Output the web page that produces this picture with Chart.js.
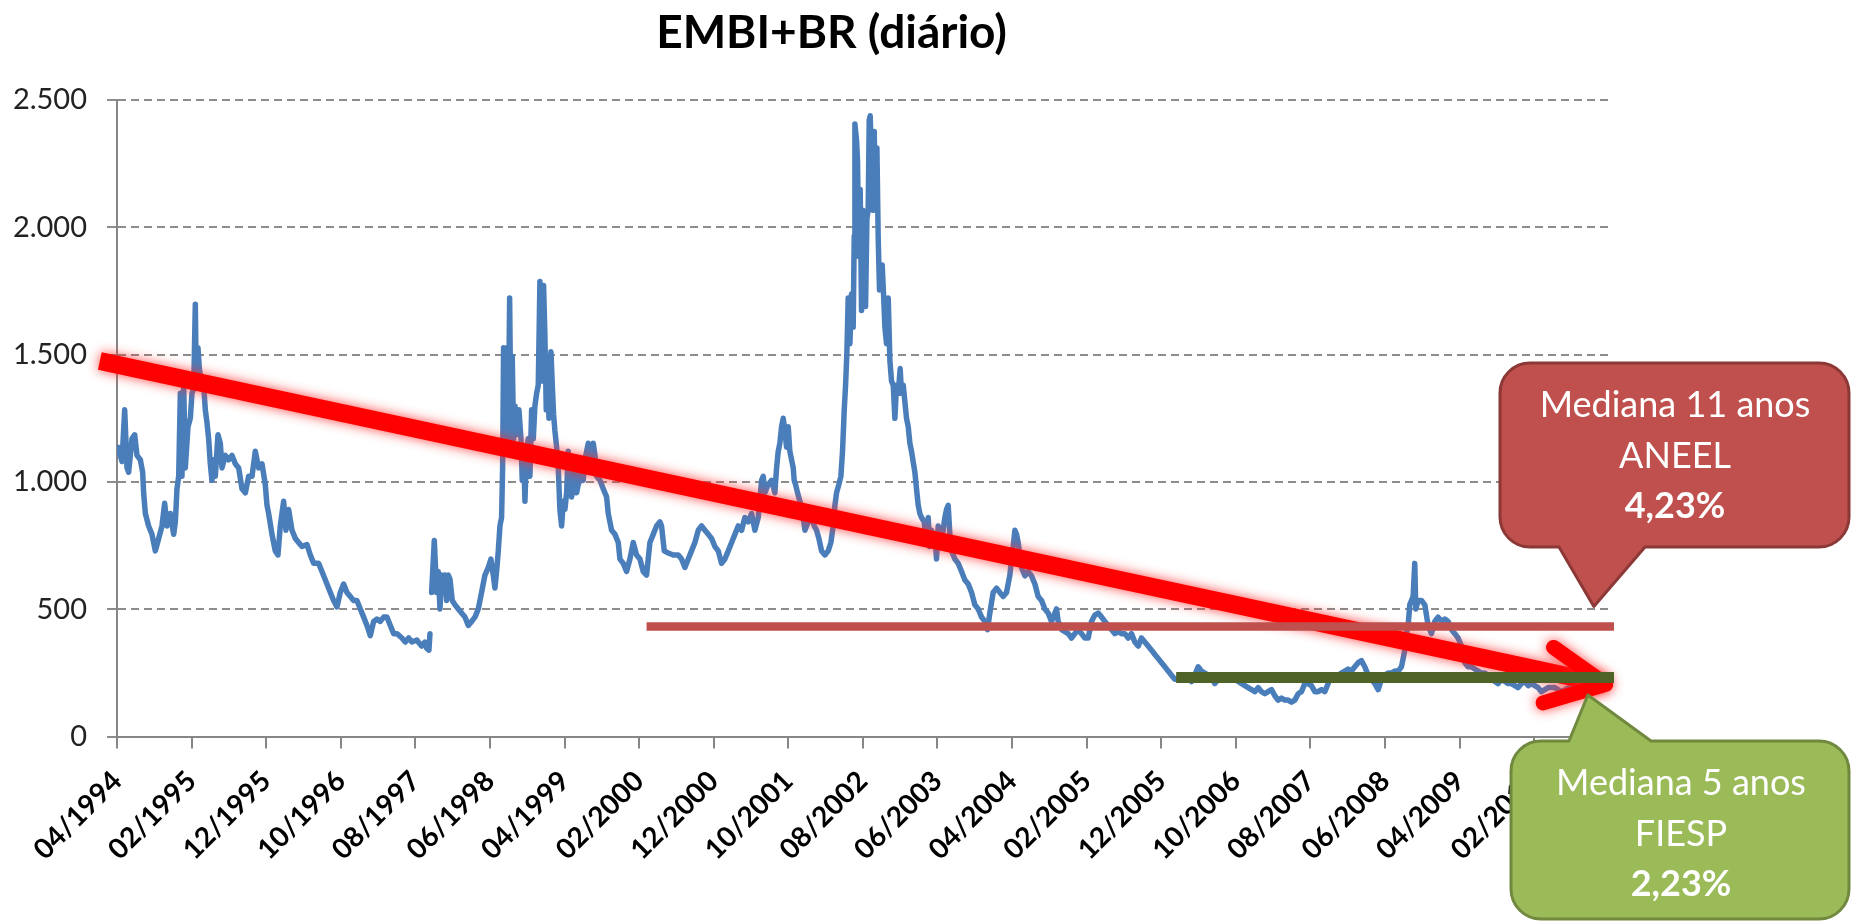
<!DOCTYPE html>
<html>
<head>
<meta charset="utf-8">
<script src="https://cdn.jsdelivr.net/npm/chart.js@4.4.1/dist/chart.umd.min.js"></script>
<style>
html,body{margin:0;padding:0;background:#fff;overflow:hidden}
#wrap{position:relative;width:1852px;height:922px}
</style>
</head>
<body>
<div id="wrap"><canvas id="c"></canvas></div>
<script>
// ---------- DATA ----------
const chartTitle = "EMBI+BR (diário)";
// x axis: months elapsed since 04/1994; one labelled tick every 10 months
const tickLabels = ["04/1994","02/1995","12/1995","10/1996","08/1997","06/1998","04/1999","02/2000","12/2000","10/2001",
                    "08/2002","06/2003","04/2004","02/2005","12/2005","10/2006","08/2007","06/2008","04/2009","02/2010"];
const tickStepMonths = 10;
const yTicks = [0, 500, 1000, 1500, 2000, 2500];

const months = [
0.13,0.67,1.03,1.34,1.56,2.01,2.37,2.68,3.13,3.44,
3.57,3.80,4.24,4.69,5.14,5.59,6.03,6.39,6.70,7.15,
7.60,7.82,8.04,8.27,8.49,8.71,8.94,9.16,9.52,9.83,
10.05,10.28,10.50,10.63,10.86,11.04,11.30,11.62,11.84,12.06,
12.29,12.51,12.73,12.96,13.18,13.54,13.85,14.08,14.52,14.97,
15.42,15.86,16.31,16.76,17.20,17.65,18.10,18.54,18.99,19.44,
19.88,20.11,20.33,20.78,21.22,21.58,21.89,22.34,22.65,23.01,
23.46,23.91,24.35,24.80,25.47,25.92,26.36,27.03,27.48,28.15,
28.60,29.04,29.49,29.94,30.38,30.83,31.28,31.72,32.17,32.62,
33.07,33.51,33.96,34.41,34.85,35.30,35.75,36.19,36.64,37.09,
37.53,38.20,38.65,39.10,39.54,40.21,
40.39,40.84,41.29,41.51,41.82,41.96,42.07,42.18,42.54,42.85,
43.07,43.30,43.52,43.74,43.97,44.19,44.41,44.64,44.95,45.31,
45.76,46.20,46.65,47.10,47.54,47.99,48.44,48.88,49.33,49.78,
50.13,50.45,50.67,50.89,51.12,51.34,51.56,51.70,51.83,52.01,
52.23,52.46,52.64,52.82,52.99,53.17,53.35,53.57,53.89,54.16,
54.33,54.51,54.69,54.91,55.14,55.36,55.59,55.81,56.03,56.26,
56.48,56.70,56.84,57.02,57.19,57.37,57.55,57.73,57.91,58.18,
58.36,58.53,58.71,58.94,59.16,59.38,59.61,59.83,60.05,60.28,
60.50,60.72,60.95,61.17,61.39,61.62,61.84,62.06,62.29,62.51,
62.73,62.96,63.18,63.40,63.63,63.85,64.08,64.30,64.75,65.19,
65.64,65.86,66.31,66.76,67.20,67.43,67.87,68.32,68.77,69.21,
69.66,70.11,70.55,71.00,71.22,71.45,71.89,72.34,72.79,73.01,
73.37,73.90,74.58,75.25,75.69,76.14,76.59,77.03,77.48,77.93,
78.37,78.82,79.27,79.71,80.16,80.61,
81.05,81.50,81.95,82.40,82.84,83.29,83.74,84.18,84.63,85.08,
85.52,85.97,86.42,86.64,86.86,87.31,87.76,88.20,88.43,88.65,
88.87,89.10,89.32,89.54,89.77,89.99,90.21,90.44,90.66,90.79,
90.97,91.24,91.55,91.87,92.23,92.67,93.12,93.48,93.79,94.10,
94.46,94.91,95.35,95.71,96.02,96.25,96.47,96.78,97.05,97.27,
97.50,97.68,97.86,98.03,98.26,98.48,98.70,98.84,98.93,99.15,
99.28,99.46,99.64,99.82,100.00,100.18,100.36,100.54,100.71,100.85,
100.98,101.16,101.34,101.52,101.70,101.88,102.06,102.23,102.41,102.59,
102.77,102.95,103.17,103.40,103.62,103.84,104.07,104.29,104.51,104.74,
105.00,105.18,105.41,105.63,105.85,106.08,106.30,106.52,106.79,106.97,
107.19,107.42,107.64,107.86,108.22,108.53,108.76,108.98,109.20,109.43,
109.65,109.87,110.10,110.54,110.99,111.22,111.44,111.66,111.89,112.33,
112.78,113.23,113.67,114.12,114.57,115.01,115.46,115.91,116.35,116.71,
117.02,117.47,117.92,118.36,118.81,119.26,119.71,119.93,120.15,120.38,
120.60,120.82,
121.27,121.72,122.16,122.61,123.06,123.50,123.95,124.40,124.84,125.29,
125.74,125.96,126.18,126.63,127.08,127.52,127.97,128.42,128.86,129.31,
129.76,130.21,130.65,131.10,131.55,131.99,132.44,132.89,133.33,133.78,
134.23,134.67,135.12,135.57,136.01,136.46,136.91,137.35,137.80,138.25,
138.70,139.14,139.59,140.04,140.48,140.93,141.38,141.82,142.27,142.72,
143.16,143.61,144.06,144.50,144.95,145.40,145.84,146.29,146.74,147.18,
147.63,148.08,148.53,148.97,149.42,149.87,150.31,150.76,151.21,151.65,
152.10,152.55,152.99,153.44,153.89,154.33,154.78,155.23,155.67,156.12,
156.57,157.01,157.46,157.91,158.36,158.80,159.25,159.70,160.14,160.59,
161.04,161.48,161.93,162.38,162.82,163.27,163.72,164.16,164.61,165.06,
165.50,165.95,166.40,166.84,167.29,167.74,168.19,168.63,169.08,169.53,
169.97,170.42,170.87,171.31,171.76,172.21,172.43,172.65,172.88,173.10,
173.32,173.55,173.77,173.99,174.13,174.44,174.89,175.34,175.78,176.23,
176.68,177.12,177.57,178.02,178.46,178.91,179.36,179.80,180.25,180.70,
181.14,181.59,182.04,182.48,182.93,183.38,183.82,184.27,184.72,185.16,
185.61,186.06,186.51,186.95,187.40,187.85,188.29,188.74,189.19,189.63,
190.08,190.53,190.97,191.42,191.87,192.76,193.66,194.55,195.44,196.34,
197.23,198.12,199.02,199.91
];

const embi = [
1136,1080,1283,1055,1038,1169,1185,1104,1087,1038,
957,876,827,794,729,778,827,916,827,876,
794,843,973,1022,1348,1022,1380,1055,1217,1250,
1348,1364,1698,1380,1527,1445,1396,1380,1283,1234,
1169,1071,1006,1087,1022,1185,1152,1055,1104,1087,
1104,1071,1055,973,957,1022,1022,1120,1055,1071,
990,908,876,794,729,713,827,924,810,892,
810,778,762,746,754,713,680,680,648,599,
566,534,509,566,599,566,550,534,534,501,
469,436,396,452,461,452,469,469,436,404,
404,387,371,387,371,379,
371,355,371,347,339,404,null,566,770,566,
648,501,634,566,634,534,634,618,534,517,
501,485,469,436,452,469,501,566,634,664,
697,634,583,648,729,827,860,1055,1527,1217,
1527,1169,1722,1185,1494,1169,1299,1185,1283,1169,
1006,1136,924,1120,1169,1022,1283,1169,1299,1348,
1380,1787,1543,1396,1771,1575,1283,1494,1250,1511,
1380,1266,1201,1136,1055,892,827,924,892,957,
1120,1022,941,1006,1087,957,990,1006,1055,1006,
1087,1120,1152,1136,1087,1152,1104,1022,1006,973,
941,876,810,794,762,697,680,648,697,762,
713,697,648,634,697,762,794,827,843,827,
729,721,713,713,697,664,697,729,762,810,
827,810,794,778,746,729,
680,697,729,762,794,827,810,860,843,876,
810,860,1006,1022,957,990,1006,957,1055,1120,
1152,1217,1250,1201,1136,1217,1120,1087,1055,1006,
990,957,924,892,810,843,860,827,810,778,
729,713,729,762,827,908,957,990,1022,1120,
1283,1380,1511,1722,1543,1738,1608,1966,2406,2341,
2262,1885,2148,1673,2067,1868,1689,2034,2067,2422,
2438,2262,2067,2376,2067,2311,1950,1754,1803,1852,
1738,1608,1543,1722,1478,1396,1380,1250,1380,1348,
1445,1348,1380,1315,1250,1217,1152,1120,1071,1038,
973,908,876,860,843,762,860,746,810,762,
794,697,827,762,860,892,908,794,729,697,
680,648,615,599,566,517,501,469,452,420,
485,566,583,566,550,566,634,697,746,810,
794,762,
664,631,648,631,599,550,534,501,485,452,
485,501,452,420,412,404,387,404,420,404,
387,387,452,477,485,469,452,436,420,404,
412,404,404,387,404,371,355,387,371,355,
339,322,306,290,274,257,241,225,225,233,
225,233,216,241,274,257,249,241,233,208,
225,233,241,233,241,225,216,208,200,192,
184,176,192,176,168,176,184,160,143,151,
143,143,135,143,168,176,208,208,200,176,
176,184,176,208,241,225,241,249,257,265,
257,274,290,298,274,241,225,208,184,225,
241,249,249,257,257,274,306,339,404,436,
517,534,550,680,501,534,534,517,436,404,
452,469,452,461,452,420,404,387,355,290,
274,274,265,257,249,249,241,225,216,208,
225,216,208,208,200,192,208,216,200,208,
200,192,176,184,192,192,176,190,200,210,
190,200,195,190
];

// overlays (data units: months since 04/1994, basis points)
const trendMonths = [-2.3, 199.6];
const trendValues = [1475, 205];
const headMonths = [192.6, 199.6, 191.2];
const headValues = [350, 205, 132];
const aneelMonths = [71.0, 200.7];
const aneelMedian = 432;
const fiespMonths = [142.0, 200.7];
const fiespMedian = 232;
const aneelText = ["Mediana 11 anos", "ANEEL", "4,23%"];
const fiespText = ["Mediana 5 anos", "FIESP", "2,23%"];
const aneelTip = {m: 198.0, v: 511};
const fiespTip = {m: 197.2, v: 163};

// ---------- CHART ----------
const FONT = "Lato, 'Open Sans', 'Liberation Sans', sans-serif";
const embiPoints = months.map((m, i) => ({x: m, y: embi[i]}));
const pts = (xs, ys) => xs.map((x, i) => ({x, y: Array.isArray(ys) ? ys[i] : ys}));

const glowPlugin = {
  id: 'glow',
  beforeDatasetDraw(chart, args) {
    if (chart.data.datasets[args.index].glow) {
      const ctx = chart.ctx;
      ctx.save();
      ctx.shadowColor = 'rgba(255,40,40,0.85)';
      ctx.shadowBlur = 12;
    }
  },
  afterDatasetDraw(chart, args) {
    if (chart.data.datasets[args.index].glow) chart.ctx.restore();
  }
};

function calloutPath(ctx, b, r, side, bl, br, tip) {
  ctx.beginPath();
  ctx.moveTo(b.l + r, b.t);
  if (side === 'top') { ctx.lineTo(bl, b.t); ctx.lineTo(tip.x, tip.y); ctx.lineTo(br, b.t); }
  ctx.lineTo(b.r - r, b.t);
  ctx.arcTo(b.r, b.t, b.r, b.t + r, r);
  ctx.lineTo(b.r, b.b - r);
  ctx.arcTo(b.r, b.b, b.r - r, b.b, r);
  if (side === 'bottom') { ctx.lineTo(br, b.b); ctx.lineTo(tip.x, tip.y); ctx.lineTo(bl, b.b); }
  ctx.lineTo(b.l + r, b.b);
  ctx.arcTo(b.l, b.b, b.l, b.b - r, r);
  ctx.lineTo(b.l, b.t + r);
  ctx.arcTo(b.l, b.t, b.l + r, b.t, r);
  ctx.closePath();
}

const callouts = [
  {text: aneelText, tip: aneelTip, box: {l: 1500, t: 363, r: 1849, b: 547}, side: 'bottom', base: [1559, 1645],
   fill: '#C0504D', stroke: '#8C3836', cx: 1675, baselines: [417, 467.5, 517.5]},
  {text: fiespText, tip: fiespTip, box: {l: 1511, t: 741, r: 1849, b: 919}, side: 'top', base: [1569, 1651],
   fill: '#9BBB59', stroke: '#71893F', cx: 1681, baselines: [795, 845.5, 896]}
];

const calloutPlugin = {
  id: 'callouts',
  afterDraw(chart) {
    const ctx = chart.ctx, xs = chart.scales.x, ys = chart.scales.y;
    callouts.forEach(c => {
      const tip = {x: xs.getPixelForValue(c.tip.m), y: ys.getPixelForValue(c.tip.v)};
      ctx.save();
      calloutPath(ctx, c.box, 30, c.side, c.base[0], c.base[1], tip);
      ctx.fillStyle = c.fill;
      ctx.fill();
      ctx.lineWidth = 3;
      ctx.lineJoin = 'round';
      ctx.strokeStyle = c.stroke;
      ctx.stroke();
      ctx.fillStyle = '#fff';
      ctx.textAlign = 'center';
      ctx.textBaseline = 'alphabetic';
      c.text.forEach((t, i) => {
        ctx.font = (i === 2 ? 'bold ' : '') + '36px ' + FONT;
        ctx.fillText(t, c.cx, c.baselines[i]);
      });
      ctx.restore();
    });
  }
};

new Chart(document.getElementById('c'), {
  type: 'line',
  data: {
    datasets: [
      {label: 'Mediana 5 anos FIESP', data: pts(fiespMonths, fiespMedian), borderColor: '#4F6228', borderWidth: 11,
       borderCapStyle: 'butt', pointRadius: 0, clip: false, order: 1},
      {label: 'Mediana 11 anos ANEEL', data: pts(aneelMonths, aneelMedian), borderColor: '#C0504D', borderWidth: 8.5,
       borderCapStyle: 'butt', pointRadius: 0, clip: false, order: 2},
      {label: 'tendência (ponta)', data: pts(headMonths, headValues), borderColor: '#FF0000', borderWidth: 15,
       borderCapStyle: 'round', borderJoinStyle: 'round', pointRadius: 0, clip: false, order: 3, glow: true},
      {label: 'tendência', data: pts(trendMonths, trendValues), borderColor: '#FF0000', borderWidth: 18,
       borderCapStyle: 'butt', pointRadius: 0, clip: false, order: 3, glow: true},
      {label: 'EMBI+BR', data: embiPoints, borderColor: '#4A7EBB', borderWidth: 5.5, pointRadius: 0,
       borderJoinStyle: 'round', borderCapStyle: 'round', spanGaps: false, tension: 0, order: 5}
    ]
  },
  options: {
    responsive: true,
    maintainAspectRatio: false,
    animation: false,
    events: [],
    layout: {padding: {left: 0, right: 189, top: 0, bottom: 0}},
    plugins: {
      legend: {display: false},
      tooltip: {enabled: false},
      title: {
        display: true, text: chartTitle, color: '#000',
        font: {family: FONT, size: 46, weight: 'bold', lineHeight: 1.2},
        padding: {top: 6, bottom: 38.8}
      }
    },
    scales: {
      x: {
        type: 'linear', min: 0, max: 200.3,
        afterBuildTicks: s => { s.ticks = tickLabels.map((_, i) => ({value: i * tickStepMonths})); },
        afterFit: s => { s.height = 185.5; },
        ticks: {
          autoSkip: false, minRotation: 45, maxRotation: 45, padding: 16, color: '#000',
          font: {family: FONT, size: 28, weight: 'bold'},
          callback: (v, i) => tickLabels[i]
        },
        grid: {display: true, drawOnChartArea: false, drawTicks: true, tickLength: 12, color: '#868686', lineWidth: 2},
        border: {display: true, color: '#868686', width: 2}
      },
      y: {
        type: 'linear', position: 'left', min: yTicks[0], max: yTicks[yTicks.length - 1],
        afterBuildTicks: s => { s.ticks = yTicks.map(v => ({value: v})); },
        afterFit: s => { s.width = 117; },
        ticks: {
          padding: 20, color: '#222',
          font: {family: FONT, size: 29},
          callback: v => String(v).replace(/\B(?=(\d{3})+(?!\d))/g, '.')
        },
        grid: {color: '#8C8C8C', lineWidth: 2, tickLength: 10, drawTicks: true, tickColor: '#8C8C8C'},
        border: {display: true, color: '#868686', width: 2, dash: [8, 5]}
      },
      spacer: {
        type: 'linear', position: 'right', display: true, min: 0, max: 1,
        afterFit: s => { s.width = 52; },
        ticks: {display: false},
        grid: {display: false, drawOnChartArea: false, drawTicks: false},
        border: {display: false}
      }
    }
  },
  plugins: [glowPlugin, calloutPlugin]
});
</script>
</body>
</html>
